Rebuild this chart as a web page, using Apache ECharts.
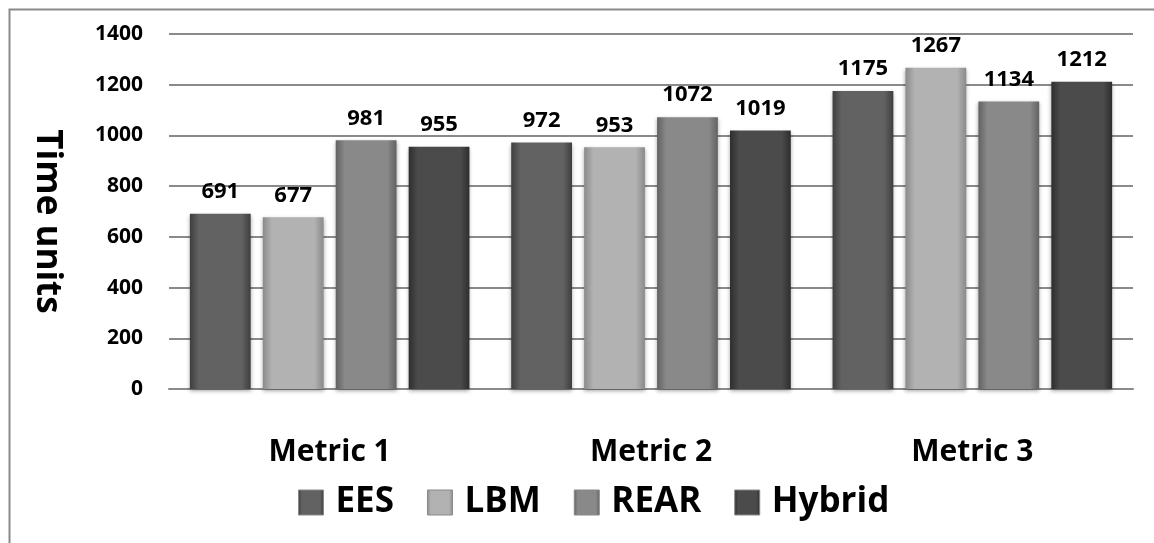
<!DOCTYPE html>
<html>
<head>
<meta charset="utf-8">
<script src="https://cdn.jsdelivr.net/npm/echarts@6/dist/echarts.min.js"></script>
<style>html,body{margin:0;padding:0;background:#fff;}#c{width:1154px;height:543px;}</style>
</head>
<body>
<div id="c"></div>
<script>
var categories = ['Metric 1', 'Metric 2', 'Metric 3'];
var seriesNames = ['EES', 'LBM', 'REAR', 'Hybrid'];
var eesValues = [691, 972, 1175];
var lbmValues = [677, 953, 1267];
var rearValues = [981, 1072, 1134];
var hybridValues = [955, 1019, 1212];
var yTicks = [0, 200, 400, 600, 800, 1000, 1200, 1400];

var FONT = '"Open Sans"';
var palettes = [
  ['#3e3e3e', '#626262', '#3e3e3e'],
  ['#8a8a8a', '#b2b2b2', '#8a8a8a'],
  ['#626262', '#898989', '#626262'],
  ['#2e2e2e', '#4b4b4b', '#2e2e2e']
];
function grad(p) {
  return new echarts.graphic.LinearGradient(0, 0, 1, 0, [
    {offset: 0, color: p[0]}, {offset: 0.15, color: p[1]},
    {offset: 0.85, color: p[1]}, {offset: 1, color: p[2]}
  ]);
}
var allValues = [eesValues, lbmValues, rearValues, hybridValues];
var series = seriesNames.map(function (n, i) {
  return {
    name: n, type: 'bar', data: allValues[i],
    barGap: '20%', barCategoryGap: '13%',
    itemStyle: {color: grad(palettes[i]), shadowColor: 'rgba(0,0,0,0.35)', shadowBlur: 4, shadowOffsetY: 2},
    label: {show: true, position: 'top', distance: 11, fontFamily: FONT, fontWeight: 'bold', fontSize: 22, color: '#000'}
  };
});

var chart = echarts.init(document.getElementById('c'), null, {renderer: 'canvas'});
chart.setOption({
  animation: false,
  backgroundColor: '#fff',
  graphic: [{type: 'rect', left: 7, top: 7, shape: {width: 1200, height: 600}, style: {fill: 'none', stroke: '#8a8a8a', lineWidth: 2}, z: -1}],
  grid: {left: 169, right: 21, top: 34, bottom: 154},
  legend: {
    left: 293, top: 480, itemWidth: 25, itemHeight: 25, itemGap: 33, icon: 'rect',
    textStyle: {fontFamily: FONT, fontWeight: 'bold', fontSize: 35, color: '#000', padding: [0, 0, 0, 7]},
    data: seriesNames.map(function (n, i) { return {name: n, itemStyle: {color: grad(palettes[i]), borderColor: '#888', borderWidth: 1}}; })
  },
  xAxis: {
    type: 'category', data: categories,
    axisLine: {lineStyle: {color: '#8a8a8a', width: 2}},
    axisTick: {show: false},
    axisLabel: {fontFamily: FONT, fontWeight: 'bold', fontSize: 30, color: '#000', margin: 48}
  },
  yAxis: {
    type: 'value', min: 0, max: 1400, interval: 200,
    name: 'Time units', nameLocation: 'middle', nameRotate: -90, nameGap: 105,
    nameTextStyle: {fontFamily: FONT, fontWeight: 'bold', fontSize: 35, color: '#000', padding: [0, 0, 0, 20]},
    axisLine: {show: false}, axisTick: {show: false},
    axisLabel: {fontFamily: FONT, fontWeight: 'bold', fontSize: 21, color: '#000', margin: 26,
      formatter: function (v) { return yTicks.indexOf(v) >= 0 ? String(v) : ''; }},
    splitLine: {lineStyle: {color: '#8a8a8a', width: 2}}
  },
  series: series
});
</script>
</body>
</html>
